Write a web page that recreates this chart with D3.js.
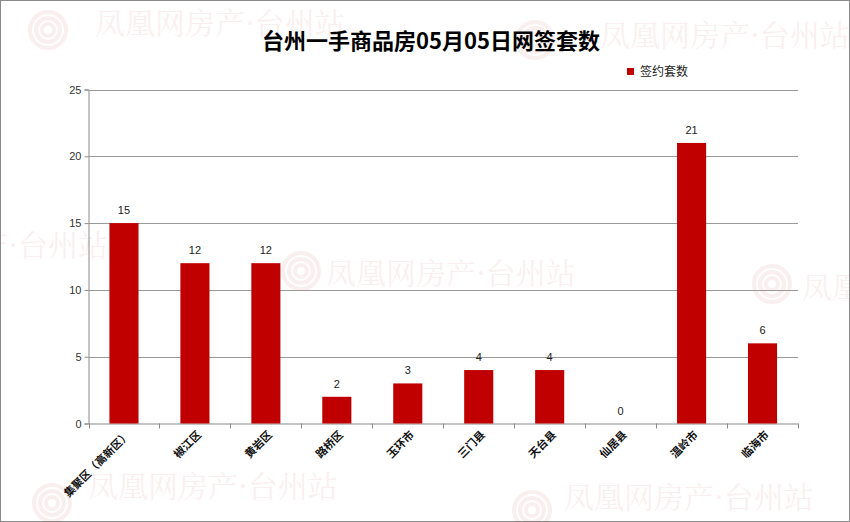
<!DOCTYPE html>
<html>
<head>
<meta charset="utf-8">
<script src="https://cdn.jsdelivr.net/npm/d3@7"></script>
<style>
  body { margin: 0; background: #fff; }
  text { font-family: "Liberation Sans", "Noto Sans CJK SC", sans-serif; }
</style>
</head>
<body>
<div id="chart"></div>
<script>
const title = "台州一手商品房05月05日网签套数";
const seriesName = "签约套数";
const districts = ["集聚区（高新区）", "椒江区", "黄岩区", "路桥区", "玉环市", "三门县", "天台县", "仙居县", "温岭市", "临海市"];
const sales = [15, 12, 12, 2, 3, 4, 4, 0, 21, 6];
const yTicks = [0, 5, 10, 15, 20, 25];

(function() {
    const width = 850;
    const height = 522;
    const margin = { top: 89.5, right: 52, bottom: 98.5, left: 88.5 };

    const svg = d3.select("#chart")
        .append("svg")
        .attr("width", width)
        .attr("height", height)
        .attr("viewBox", [0, 0, width, height]);

    svg.append("rect")
        .attr("x", 0.5).attr("y", 0.5)
        .attr("width", width - 1).attr("height", height - 1)
        .attr("fill", "#fff")
        .attr("stroke", "#8a8a8a");

    // watermark (faint, partly cut at the edges like the original)
    const marks = [
        { x: 95, y: 34, logo: [48, 30], anchor: "start" },
        { x: 600, y: 46, logo: [535, 40], anchor: "start" },
        { x: 108, y: 256, logo: null, anchor: "end" },
        { x: 326, y: 284, logo: [301, 271], anchor: "start" },
        { x: 802, y: 298, logo: [772, 284], anchor: "start" },
        { x: 88, y: 497, logo: [52, 503], anchor: "start" },
        { x: 564, y: 508, logo: [532, 510], anchor: "start" }
    ];
    const wm = svg.append("g").attr("opacity", 0.06);
    marks.forEach(m => {
        wm.append("text")
            .attr("x", m.x).attr("y", m.y)
            .attr("text-anchor", m.anchor)
            .attr("font-size", 30)
            .style("font-family", "'Noto Serif CJK SC', 'Noto Sans CJK SC', serif")
            .attr("fill", "#b00000")
            .text("凤凰网房产·台州站");
        if (m.logo) {
            [18, 12, 6].forEach(r => {
                wm.append("circle")
                    .attr("cx", m.logo[0]).attr("cy", m.logo[1]).attr("r", r)
                    .attr("fill", "none").attr("stroke", "#b00000").attr("stroke-width", 4);
            });
        }
    });

    const x = d3.scaleBand()
        .domain(districts)
        .range([margin.left, width - margin.right])
        .padding(0);

    const y = d3.scaleLinear()
        .domain([0, 25])
        .range([height - margin.bottom, margin.top]);

    // grid
    svg.append("g")
        .selectAll("line")
        .data(yTicks.filter(d => d > 0))
        .join("line")
        .attr("x1", margin.left).attr("x2", width - margin.right)
        .attr("y1", d => Math.round(y(d)) + 0.5).attr("y2", d => Math.round(y(d)) + 0.5)
        .attr("stroke", "#9a9a9a");

    // y axis
    const yAxis = svg.append("g")
        .attr("transform", `translate(${margin.left},0)`)
        .call(d3.axisLeft(y).tickValues(yTicks).tickSize(4).tickPadding(3));
    yAxis.selectAll("path, line").attr("stroke", "#8a8a8a");
    yAxis.selectAll("text").attr("font-size", 11).attr("fill", "#333");

    // x axis
    const xAxis = svg.append("g")
        .attr("transform", `translate(0,${height - margin.bottom})`)
        .call(d3.axisBottom(x).tickSize(0).tickFormat(""));
    xAxis.select("path").attr("stroke", "#8a8a8a");
    xAxis.selectAll(".tick").remove();
    xAxis.selectAll("line.sep")
        .data(d3.range(districts.length + 1))
        .join("line")
        .attr("class", "sep")
        .attr("x1", i => Math.round(margin.left + i * x.step()) + 0.5)
        .attr("x2", i => Math.round(margin.left + i * x.step()) + 0.5)
        .attr("y1", 0).attr("y2", 5)
        .attr("stroke", "#8a8a8a");

    svg.append("g")
        .selectAll("text")
        .data(districts)
        .join("text")
        .attr("transform", d => `translate(${x(d) + x.bandwidth() / 2 + 7},${height - margin.bottom + 12}) rotate(-45)`)
        .attr("text-anchor", "end")
        .attr("font-size", 11)
        .attr("font-weight", "bold")
        .attr("fill", "#111")
        .text(d => d);

    // bars
    const barW = x.bandwidth() * 0.41;
    svg.append("g")
        .selectAll("rect")
        .data(sales)
        .join("rect")
        .attr("x", (d, i) => x(districts[i]) + (x.bandwidth() - barW) / 2)
        .attr("y", d => y(d))
        .attr("width", barW)
        .attr("height", d => y(0) - y(d))
        .attr("fill", "#c00000");

    svg.append("g")
        .selectAll("text")
        .data(sales)
        .join("text")
        .attr("x", (d, i) => x(districts[i]) + x.bandwidth() / 2)
        .attr("y", d => y(d) - 9)
        .attr("text-anchor", "middle")
        .attr("font-size", 11)
        .attr("fill", "#222")
        .text(d => d);

    // title
    svg.append("text")
        .attr("x", 431).attr("y", 49)
        .attr("text-anchor", "middle")
        .attr("font-size", 22)
        .attr("font-weight", "bold")
        .attr("fill", "#000")
        .style("font-family", "'Noto Sans CJK SC', sans-serif")
        .text(title);

    // legend
    svg.append("rect")
        .attr("x", 627).attr("y", 68)
        .attr("width", 7).attr("height", 7)
        .attr("fill", "#c00000");
    svg.append("text")
        .attr("x", 640).attr("y", 76)
        .attr("font-size", 12)
        .attr("fill", "#222")
        .text(seriesName);
})();
</script>
</body>
</html>
